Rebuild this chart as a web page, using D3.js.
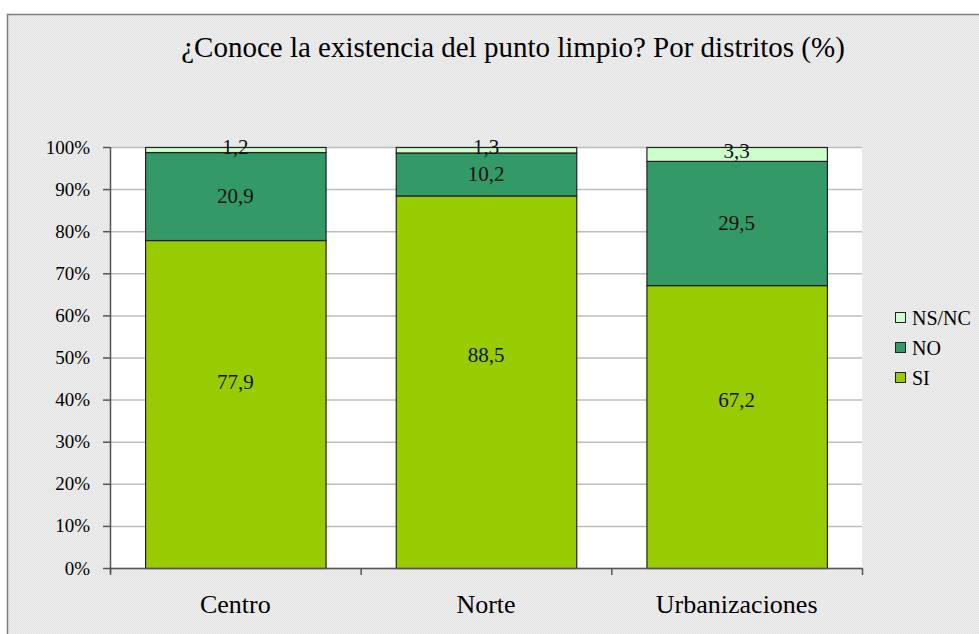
<!DOCTYPE html>
<html>
<head>
<meta charset="utf-8">
<script src="https://cdn.jsdelivr.net/npm/d3@7"></script>
<style>
  body { margin: 0; background: #fff; }
  svg text { font-family: "Liberation Serif", "Times New Roman", Times, serif; }
</style>
</head>
<body>
<div id="chart"></div>
<script>
// chart data
var districts = ["Centro", "Norte", "Urbanizaciones"];
var seriesNames = ["SI", "NO", "NS/NC"];
var siValues = [77.9, 88.5, 67.2];
var noValues = [20.9, 10.2, 29.5];
var nsncValues = [1.2, 1.3, 3.3];
var yTicks = [0, 10, 20, 30, 40, 50, 60, 70, 80, 90, 100];

var colors = { "SI": "#99cc00", "NO": "#339966", "NS/NC": "#ccffcc" };
// the SI labels in the original are nudged off centre (in % units)
var siLabelNudge = [5.3, 6.4, 6.3];

var serif = '"Liberation Serif", "Times New Roman", Times, serif';
var svgWidth = 979, svgHeight = 634;
var margin = { top: 147, left: 110, right: 117, bottom: 66 };
var width = svgWidth - margin.left - margin.right;
var height = svgHeight - margin.top - margin.bottom;

var svg = d3.select("#chart").append("svg")
  .attr("width", svgWidth)
  .attr("height", svgHeight)
  .attr("font-family", serif);

// the grey dotted chart background
var defs = svg.append("defs");
var pat = defs.append("pattern")
  .attr("id", "dots")
  .attr("width", 2).attr("height", 2)
  .attr("patternUnits", "userSpaceOnUse");
pat.append("rect").attr("width", 2).attr("height", 2).attr("fill", "#efefef");
pat.append("rect").attr("width", 1).attr("height", 1).attr("fill", "#e2e2e2");
pat.append("rect").attr("x", 1).attr("y", 1).attr("width", 1).attr("height", 1).attr("fill", "#e2e2e2");

svg.append("rect")
  .attr("x", 7.5).attr("y", 14.5)
  .attr("width", svgWidth).attr("height", svgHeight)
  .attr("fill", "url(#dots)")
  .attr("stroke", "#808080")
  .attr("stroke-width", 1.5);

svg.append("text")
  .attr("x", 513).attr("y", 57)
  .attr("text-anchor", "middle")
  .attr("font-size", 29)
  .attr("fill", "#000")
  .text("¿Conoce la existencia del punto limpio? Por distritos (%)");

var g = svg.append("g").attr("transform", `translate(${margin.left}, ${margin.top})`);

var x = d3.scaleBand().domain(districts).range([0, width]).paddingInner(0.28).paddingOuter(0.14);
var xOuter = d3.scaleBand().domain(districts).range([0, width]);
var y = d3.scaleLinear().domain([0, 100]).range([height, 0]);

g.append("rect").attr("width", width).attr("height", height).attr("fill", "#fff");

// gridlines
g.selectAll(".grid").data(yTicks).enter().append("line")
  .attr("x1", 0).attr("x2", width)
  .attr("y1", d => y(d) + 0.5).attr("y2", d => y(d) + 0.5)
  .attr("stroke", "#bdbdbd").attr("stroke-width", 1.5);

// stack the series
var rows = districts.map(function(d, i) {
  return { district: d, "SI": siValues[i], "NO": noValues[i], "NS/NC": nsncValues[i] };
});
var stacked = d3.stack().keys(seriesNames)(rows);

var layers = g.selectAll(".layer").data(stacked).enter().append("g")
  .attr("fill", d => colors[d.key]);

layers.selectAll("rect").data(d => d).enter().append("rect")
  .attr("x", d => x(d.data.district) + 0.5)
  .attr("y", d => y(d[1]) + 0.5)
  .attr("width", x.bandwidth())
  .attr("height", d => y(d[0]) - y(d[1]))
  .attr("stroke", "#222")
  .attr("stroke-width", 1.2);

// data labels
layers.each(function(layer) {
  d3.select(this).selectAll("text").data(layer).enter().append("text")
    .attr("x", d => x(d.data.district) + x.bandwidth() / 2)
    .attr("y", function(d, i) {
      var mid = (d[0] + d[1]) / 2;
      if (layer.key === "SI") mid += siLabelNudge[i];
      if (layer.key === "NS/NC") mid += 0.8;
      return y(mid);
    })
    .attr("dy", "0.35em")
    .attr("text-anchor", "middle")
    .attr("font-size", 21)
    .attr("fill", "#111")
    .text(d => d3.format(".1f")(d[1] - d[0]).replace(".", ","));
});

// y axis
var yAxis = g.append("g")
  .call(d3.axisLeft(y).tickValues(yTicks).tickSize(7).tickPadding(13).tickFormat(d => d + "%"));
yAxis.attr("font-family", serif);
yAxis.select(".domain").attr("stroke", "#555").attr("stroke-width", 1.5).attr("d", `M0.5,0V${height + 5}`);
yAxis.selectAll(".tick line").attr("stroke", "#555").attr("stroke-width", 1.5);
yAxis.selectAll(".tick text").attr("font-size", 19).attr("fill", "#000");

// x axis with ticks at category boundaries
var xAxisG = g.append("g").attr("transform", `translate(0, ${height})`);
xAxisG.append("line").attr("x1", 0).attr("x2", width).attr("y1", 0.5).attr("y2", 0.5)
  .attr("stroke", "#555").attr("stroke-width", 1.5);
var bounds = districts.map(d => xOuter(d)).concat([width]);
xAxisG.selectAll(".xt").data(bounds).enter().append("line")
  .attr("x1", d => d + 0.5).attr("x2", d => d + 0.5)
  .attr("y1", 0).attr("y2", 7)
  .attr("stroke", "#555").attr("stroke-width", 1.5);
xAxisG.selectAll(".xl").data(districts).enter().append("text")
  .attr("x", d => xOuter(d) + xOuter.bandwidth() / 2)
  .attr("y", 45)
  .attr("text-anchor", "middle")
  .attr("font-size", 26)
  .attr("fill", "#000")
  .text(d => d);

// legend
var legend = svg.append("g").attr("transform", "translate(895, 318)");
var legendItems = seriesNames.slice().reverse();
legendItems.forEach(function(name, i) {
  var row = legend.append("g").attr("transform", `translate(0, ${i * 30})`);
  row.append("rect").attr("x", 0.5).attr("y", -5.5).attr("width", 10).attr("height", 10)
    .attr("fill", colors[name]).attr("stroke", "#222").attr("stroke-width", 1);
  row.append("text").attr("x", 17).attr("y", 0).attr("dy", "0.35em")
    .attr("font-size", 20).attr("fill", "#000").text(name);
});
</script>
</body>
</html>
